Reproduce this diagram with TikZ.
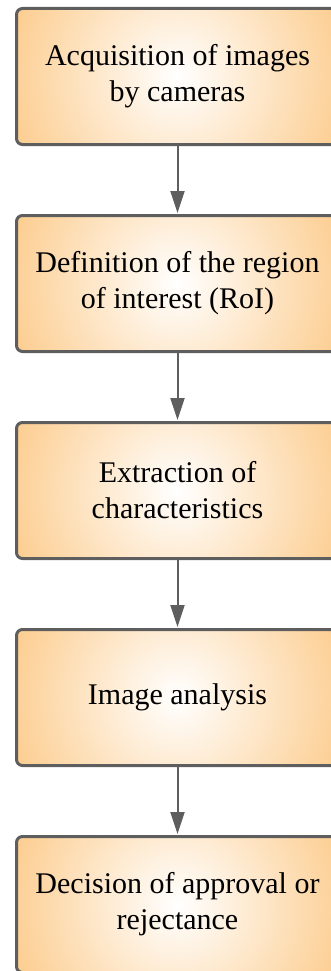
\documentclass[tikz,border=0pt]{standalone}
\usepackage{fontspec}
\setmainfont{Liberation Serif}
\usepackage{tikz}
\usetikzlibrary{arrows.meta, positioning}

\definecolor{bordegris}{HTML}{5E5E5E}
\definecolor{naranja}{HTML}{FBB356}

\begin{document}
\begin{tikzpicture}[
  x=1pt, y=1pt,
  node distance=68pt,
  paso/.style={draw=bordegris, line width=3pt, rounded corners=6pt,
               align=center, minimum width=322pt, minimum height=136pt,
               inner sep=0pt, font=\fontsize{30}{36}\selectfont,
               path picture={\shade[inner color=white, outer color=naranja]
                 (path picture bounding box.center) circle (265pt);}},
  flecha/.style={-{Triangle[length=22pt, width=14pt]}, line width=2pt,
                 draw=bordegris, shorten >=1pt}
]
\clip (0,0) rectangle (331,-971);

\node[paso] (adq) at (177.5,-76.5) {Acquisition of images\\by cameras};
\node[paso, below=of adq] (roi) {Definition of the region\\of interest (RoI)};
\node[paso, below=of roi] (extr) {Extraction of\\characteristics};
\node[paso, below=of extr] (anal) {Image analysis};
\node[paso, below=of anal] (dec) {Decision of approval or\\rejectance};

\draw[flecha] (adq) -- (roi);
\draw[flecha] (roi) -- (extr);
\draw[flecha] (extr) -- (anal);
\draw[flecha] (anal) -- (dec);
\end{tikzpicture}
\end{document}
